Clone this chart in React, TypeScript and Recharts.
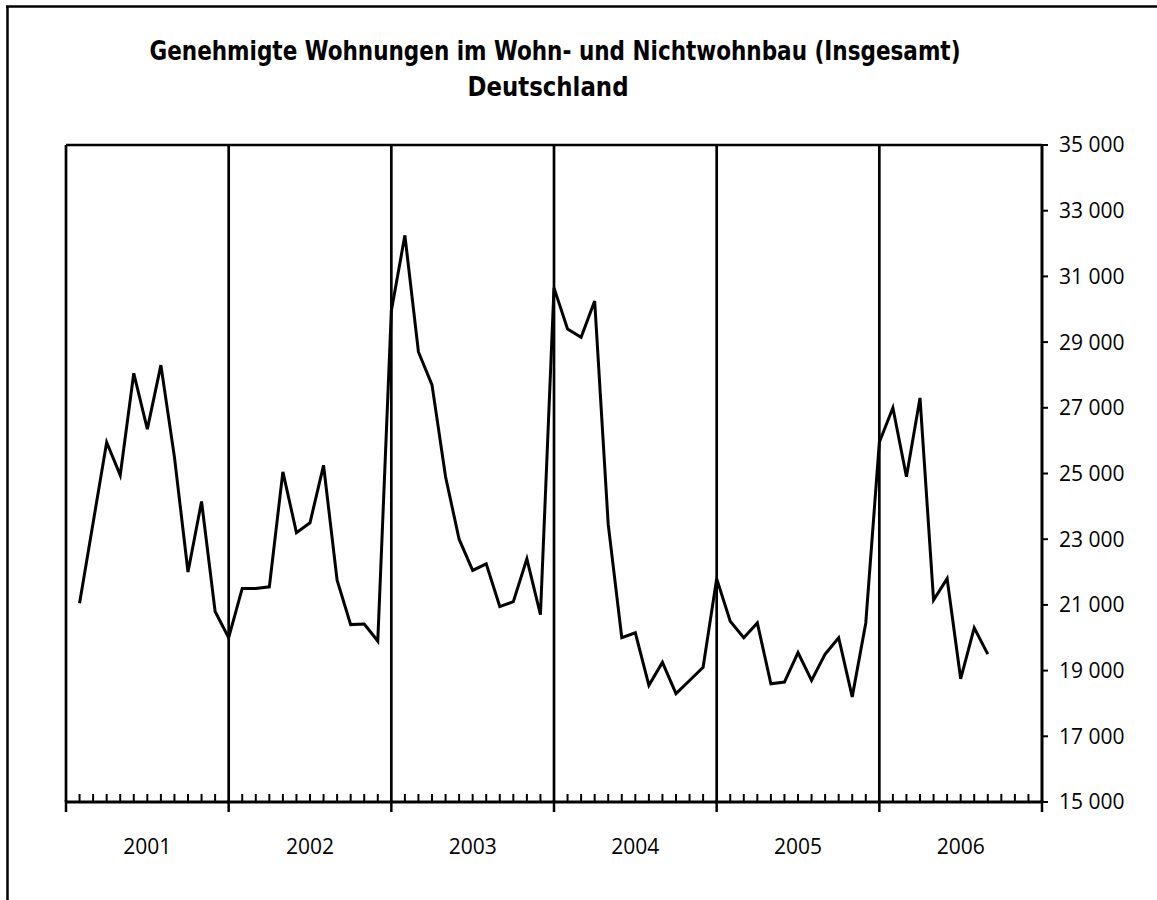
import React from 'react';
import { LineChart, Line, XAxis, YAxis, ReferenceLine } from 'recharts';

const years = ['2001', '2002', '2003', '2004', '2005', '2006'];
const values2001 = [21050, 23500, 25950, 24950, 28050, 26350, 28300, 25500, 22000, 24150, 20800, 20000];
const values2002 = [21500, 21500, 21550, 25050, 23200, 23500, 25250, 21750, 20400, 20420, 19900, 29950];
const values2003 = [32250, 28700, 27700, 24900, 23000, 22050, 22250, 20950, 21100, 22400, 20700, 30650];
const values2004 = [29400, 29150, 30250, 23450, 20000, 20150, 18550, 19250, 18300, 18700, 19100, 21800];
const values2005 = [20500, 20000, 20450, 18600, 18650, 19550, 18700, 19500, 20000, 18200, 20450, 25950];
const values2006 = [27000, 24900, 27300, 21150, 21800, 18750, 20300, 19500];
const yTicks = [15000, 17000, 19000, 21000, 23000, 25000, 27000, 29000, 31000, 33000, 35000];
const yearBoundaries = [0, 12, 24, 36, 48, 60];
const monthTicks = Array.from({ length: 73 }, (_, i) => i);

const series = [...values2001, ...values2002, ...values2003, ...values2004, ...values2005, ...values2006];
const data = series.map((v, i) => ({ m: i + 1, v }));

const FONT = "'Open Sans', 'Noto Sans', sans-serif";
const TITLE_FONT = "'Liberation Sans Narrow', 'DejaVu Sans Condensed', 'Open Sans', sans-serif";

const fmt = (v: number) => String(v).replace(/\B(?=(\d{3})+(?!\d))/g, ' ');

const XTick = (props: any) => {
  const { x, y, payload } = props;
  const v = payload.value as number;
  const isYear = v % 12 === 0;
  return (
    <g>
      {isYear ? (
        <line x1={x} x2={x} y1={y - 2} y2={y + 10} stroke="#000" strokeWidth={2.5} />
      ) : (
        <line x1={x} x2={x} y1={y} y2={y - 8} stroke="#000" strokeWidth={2} />
      )}
      {v % 12 === 6 && (
        <text x={x} y={y + 52} textAnchor="middle" fill="#000" fontSize={21} fontFamily={FONT}>
          {years[Math.floor(v / 12)]}
        </text>
      )}
    </g>
  );
};

export default function App() {
  return (
    <div style={{ position: 'absolute', left: 0, top: 0, width: 1157, height: 900, background: '#fff' }}>
      <LineChart width={1157} height={900} data={data} margin={{ top: 145, left: 66, right: 0, bottom: 0 }}>
        {yearBoundaries.map((b) => (
          <ReferenceLine key={b} x={b} stroke="#000" strokeWidth={2.7} ifOverflow="extendDomain" />
        ))}
        <ReferenceLine y={35000} stroke="#000" strokeWidth={2.7} />
        <XAxis
          dataKey="m"
          type="number"
          domain={[0, 72]}
          ticks={monthTicks}
          interval={0}
          height={98}
          tickSize={0}
          tickMargin={0}
          tickLine={false}
          axisLine={{ stroke: '#000', strokeWidth: 3 }}
          tick={<XTick />}
          allowDataOverflow
        />
        <YAxis
          orientation="right"
          domain={[15000, 35000]}
          ticks={yTicks}
          interval={0}
          width={115}
          tickSize={6}
          tickMargin={11}
          tickFormatter={fmt}
          axisLine={{ stroke: '#000', strokeWidth: 3 }}
          tickLine={{ stroke: '#000', strokeWidth: 2 }}
          tick={{ fill: '#000', fontSize: 21, fontFamily: FONT }}
          allowDataOverflow
        />
        <Line
          type="linear"
          dataKey="v"
          stroke="#000"
          strokeWidth={3}
          dot={false}
          strokeLinejoin="miter"
          isAnimationActive={false}
        />
      </LineChart>
      <svg width={1157} height={900} style={{ position: 'absolute', left: 0, top: 0, pointerEvents: 'none' }}>
        <line x1={7.5} x2={7.5} y1={6} y2={900} stroke="#000" strokeWidth={2.5} />
        <line x1={6} x2={1157} y1={6.5} y2={6.5} stroke="#000" strokeWidth={2.5} />
        <text
          x={555}
          y={60}
          textAnchor="middle"
          fontFamily={TITLE_FONT}
          fontWeight="bold"
          fontSize={27}
          fill="#000"
          textLength={811}
          lengthAdjust="spacingAndGlyphs"
        >
          Genehmigte Wohnungen im Wohn- und Nichtwohnbau (Insgesamt)
        </text>
        <text
          x={548}
          y={96}
          textAnchor="middle"
          fontFamily={TITLE_FONT}
          fontWeight="bold"
          fontSize={27}
          fill="#000"
          textLength={161}
          lengthAdjust="spacingAndGlyphs"
        >
          Deutschland
        </text>
      </svg>
    </div>
  );
}
